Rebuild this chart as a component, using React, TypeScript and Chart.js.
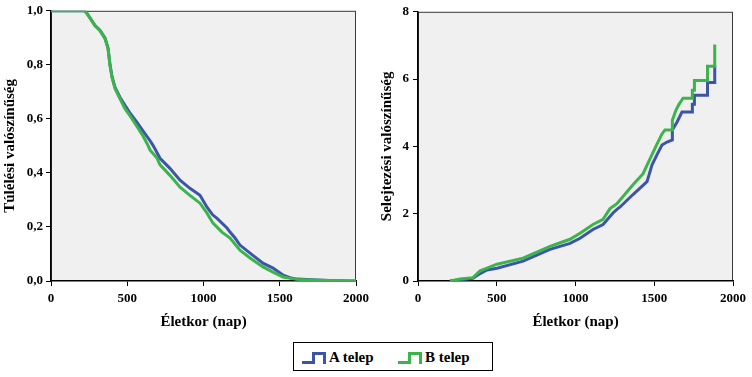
import React, { useEffect, useRef } from 'react';
import { Chart, registerables } from 'chart.js';

Chart.register(...registerables);

// ---------- Data ----------
const seriesNames = ['A telep', 'B telep'];

// Survival (Túlélési valószínűség) vs age in days
const survAgeA = [0, 220, 236, 289, 321, 354, 374, 387, 400, 420, 452, 485, 520, 564, 610, 649, 669, 715, 780, 846, 911, 977, 1023, 1060, 1089, 1154, 1174, 1207, 1239, 1305, 1390, 1456, 1521, 1567, 1613, 1744, 1875, 1950, 2000];
const survValA = [1.0, 1.0, 0.99, 0.945, 0.928, 0.9, 0.862, 0.8, 0.757, 0.716, 0.68, 0.65, 0.62, 0.587, 0.55, 0.52, 0.502, 0.454, 0.417, 0.373, 0.343, 0.317, 0.273, 0.245, 0.232, 0.196, 0.181, 0.159, 0.133, 0.103, 0.066, 0.048, 0.022, 0.012, 0.007, 0.004, 0.001, 0.0, 0.0];

const survAgeB = [0, 220, 236, 289, 321, 354, 374, 387, 400, 420, 452, 485, 520, 551, 600, 636, 649, 695, 715, 780, 846, 911, 977, 1023, 1062, 1121, 1174, 1239, 1305, 1390, 1456, 1521, 1613, 1750, 1880, 2000];
const survValB = [1.0, 1.0, 0.99, 0.945, 0.926, 0.897, 0.86, 0.797, 0.753, 0.712, 0.675, 0.638, 0.61, 0.583, 0.54, 0.502, 0.485, 0.455, 0.43, 0.391, 0.347, 0.317, 0.288, 0.251, 0.214, 0.181, 0.159, 0.114, 0.085, 0.052, 0.033, 0.015, 0.006, 0.003, 0.001, 0.0];

// Cumulative hazard (Selejtezési valószínűség) vs age in days
const hazAgeA = [203, 267, 349, 394, 438, 502, 667, 838, 965, 1029, 1111, 1175, 1238, 1263, 1283, 1365, 1454, 1486, 1517, 1549, 1581, 1615, 1615, 1644, 1676, 1742, 1742, 1755, 1755, 1838, 1838, 1884, 1884];
const hazValA = [0, 0.03, 0.08, 0.22, 0.33, 0.38, 0.59, 0.94, 1.12, 1.27, 1.53, 1.68, 2.02, 2.13, 2.2, 2.57, 2.95, 3.45, 3.75, 4.04, 4.13, 4.19, 4.49, 4.72, 5.02, 5.02, 5.25, 5.25, 5.52, 5.52, 5.9, 5.9, 6.4];

const hazAgeB = [203, 267, 349, 394, 438, 502, 667, 838, 965, 1029, 1111, 1175, 1219, 1263, 1365, 1429, 1473, 1517, 1549, 1568, 1615, 1615, 1638, 1657, 1683, 1742, 1742, 1755, 1755, 1838, 1838, 1884, 1884];
const hazValB = [0, 0.06, 0.1, 0.3, 0.38, 0.5, 0.68, 1.03, 1.24, 1.42, 1.68, 1.83, 2.15, 2.3, 2.86, 3.19, 3.63, 4.07, 4.37, 4.49, 4.49, 4.78, 5.08, 5.25, 5.43, 5.43, 5.67, 5.67, 5.96, 5.96, 6.38, 6.38, 7.03];

const xTicks = [0, 500, 1000, 1500, 2000];
const survTicks = [0, 0.2, 0.4, 0.6, 0.8, 1.0];
const hazTicks = [0, 2, 4, 6, 8];

const COLOR_A = '#3d55a8';
const COLOR_B = '#3ab54a';
const FONT = '"Times New Roman", "Liberation Serif", Tinos, "DejaVu Serif", serif';

const toPts = (xs: number[], ys: number[]) => xs.map((x, i) => ({ x, y: ys[i] }));

const plotBg = {
  id: 'plotBg',
  beforeDraw(chart: any) {
    const { ctx, chartArea } = chart;
    const { left, top, right, bottom } = chartArea;
    ctx.save();
    ctx.fillStyle = '#f0f0f0';
    ctx.fillRect(left, top, right - left, bottom - top);
    ctx.strokeStyle = '#3a3a3a';
    ctx.lineWidth = 1;
    ctx.strokeRect(left + 0.5, top + 0.5, right - left - 1, bottom - top - 1);
    ctx.restore();
  },
};

function makeConfig(opts: {
  a: { x: number; y: number }[];
  b: { x: number; y: number }[];
  yMax: number;
  yTicks: number[];
  yTitle: string;
  yFmt: (v: number) => string;
  yWidth: number;
  yPad: number;
  yTitlePad: number;
  top: number;
  right: number;
}): any {
  const tickFont = { family: FONT, size: 13, weight: 'bold' as const };
  const titleFont = { family: FONT, size: 15, weight: 'bold' as const };
  return {
    type: 'line',
    data: {
      datasets: [
        { label: seriesNames[0], data: opts.a, borderColor: COLOR_A, backgroundColor: COLOR_A, borderWidth: 3, pointRadius: 0, fill: false, order: 1 },
        { label: seriesNames[1], data: opts.b, borderColor: COLOR_B, backgroundColor: COLOR_B, borderWidth: 3, pointRadius: 0, fill: false, order: 0 },
      ],
    },
    options: {
      responsive: false,
      animation: false,
      layout: { padding: { left: 0, right: opts.right, top: opts.top, bottom: 0 } },
      plugins: { legend: { display: false }, tooltip: { enabled: false } },
      elements: { line: { tension: 0, borderJoinStyle: 'miter' } },
      scales: {
        x: {
          type: 'linear',
          min: 0,
          max: 2000,
          afterBuildTicks: (s: any) => { s.ticks = xTicks.map((v) => ({ value: v })); },
          ticks: { color: '#000', font: tickFont, padding: 5, maxRotation: 0, callback: (v: any) => String(v) },
          grid: { drawOnChartArea: false, drawTicks: true, tickLength: 5, color: '#000', lineWidth: 1 },
          border: { display: true, color: '#000', width: 1.5 },
          title: { display: true, text: 'Életkor (nap)', color: '#000', font: titleFont, padding: { top: 0, bottom: 4 } },
          afterFit: (s: any) => { s.height = 54; },
        },
        y: {
          type: 'linear',
          min: 0,
          max: opts.yMax,
          afterBuildTicks: (s: any) => { s.ticks = opts.yTicks.map((v) => ({ value: v })); },
          ticks: { color: '#000', font: tickFont, padding: opts.yPad, callback: (v: any) => opts.yFmt(Number(v)) },
          grid: { drawOnChartArea: false, drawTicks: true, tickLength: 5, color: '#000', lineWidth: 1 },
          border: { display: true, color: '#000', width: 1.5 },
          title: { display: true, text: opts.yTitle, color: '#000', font: titleFont, padding: { top: opts.yTitlePad, bottom: 0 } },
          afterFit: (s: any) => { s.width = opts.yWidth; },
        },
      },
    },
    plugins: [plotBg],
  };
}

function ChartCanvas({ config, left }: { config: () => any; left: number }) {
  const ref = useRef<HTMLCanvasElement | null>(null);
  useEffect(() => {
    if (!ref.current) return;
    const chart = new Chart(ref.current, config());
    return () => chart.destroy();
  }, []);
  return (
    <canvas
      ref={ref}
      width={376}
      height={335}
      style={{ position: 'absolute', left, top: 0, width: 376, height: 335, display: 'block' }}
    />
  );
}

function LegendIcon({ color }: { color: string }) {
  return (
    <svg width={26} height={14} style={{ position: 'absolute', left: 0, top: 0 }}>
      <polyline points="0,11.5 11.5,11.5 11.5,2.5 22.5,2.5 22.5,13" fill="none" stroke={color} strokeWidth={3} strokeLinejoin="miter" />
    </svg>
  );
}

export default function App() {
  const survConfig = () =>
    makeConfig({
      a: toPts(survAgeA, survValA),
      b: toPts(survAgeB, survValB),
      yMax: 1,
      yTicks: survTicks,
      yTitle: 'Túlélési valószínűség',
      yFmt: (v) => v.toFixed(1).replace('.', ','),
      yWidth: 51,
      yPad: 3,
      yTitlePad: 1,
      top: 10,
      right: 20,
    });
  const hazConfig = () =>
    makeConfig({
      a: toPts(hazAgeA, hazValA),
      b: toPts(hazAgeB, hazValB),
      yMax: 8,
      yTicks: hazTicks,
      yTitle: 'Selejtezési valószínűség',
      yFmt: (v) => String(Math.round(v)),
      yWidth: 42,
      yPad: 4,
      yTitlePad: 2,
      top: 9,
      right: 19,
    });

  const legendText: React.CSSProperties = {
    position: 'absolute',
    fontFamily: FONT,
    fontWeight: 'bold',
    fontSize: 15,
    lineHeight: '16px',
    color: '#000',
    whiteSpace: 'nowrap',
  };

  return (
    <div style={{ position: 'absolute', left: 0, top: 0, width: 752, height: 377, background: '#fff', overflow: 'hidden' }}>
      <ChartCanvas config={survConfig} left={0} />
      <ChartCanvas config={hazConfig} left={376} />
      <div
        style={{
          position: 'absolute',
          left: 293,
          top: 342,
          width: 200,
          height: 29,
          border: '1px solid #000',
          boxSizing: 'border-box',
        }}
      >
        <div style={{ position: 'absolute', left: 8, top: 8 }}>
          <LegendIcon color={COLOR_A} />
        </div>
        <div style={{ ...legendText, left: 35, top: 6 }}>{seriesNames[0]}</div>
        <div style={{ position: 'absolute', left: 104, top: 8 }}>
          <LegendIcon color={COLOR_B} />
        </div>
        <div style={{ ...legendText, left: 131, top: 6 }}>{seriesNames[1]}</div>
      </div>
    </div>
  );
}
